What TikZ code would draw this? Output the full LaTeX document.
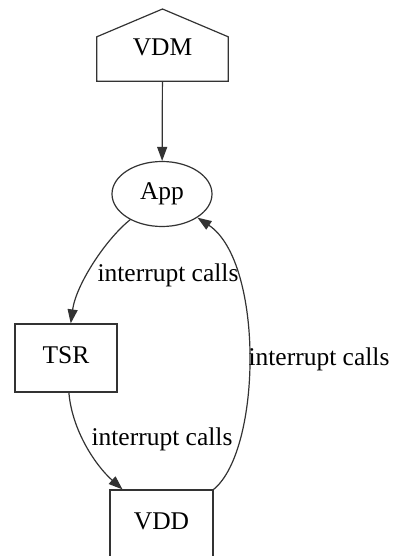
\documentclass[tikz,border=0pt]{standalone}
\usepackage{fontspec}
\setmainfont{Liberation Serif}
\usetikzlibrary{arrows.meta,shapes.geometric}
\begin{document}
\begin{tikzpicture}[x=1pt,y=-1pt,
  every node/.style={font=\fontsize{25.5}{31}\selectfont, text height=1.18em, text depth=0pt, inner sep=0pt},
  line/.style={draw=black!80, line width=1.2pt},
  boxnode/.style={line, rectangle},
  ovalnode/.style={line, ellipse},
  edge/.style={line, -{Triangle[length=14pt,width=10pt]}},
  elabel/.style={fill=none}]
\useasboundingbox (0,0) rectangle (392,556);
\fill[white] (0,0) rectangle (392,556);

% house-shaped VDM node: outline drawn around the node's walls
\node[rectangle, minimum width=131pt, minimum height=44pt] (vdm) at (162.5,59) {};
\draw[line, line join=miter] (vdm.south west) -- (vdm.north west) -- (162.5,9)
  -- (vdm.north east) -- (vdm.south east) -- cycle;
\node (vdmtext) at (162.5,50) {VDM};

\node[ovalnode, minimum width=100pt, minimum height=65pt] (app) at (162,194) {App};
\node[boxnode, minimum width=102pt, minimum height=68pt] (tsr) at (66,358) {TSR};
\node[boxnode, minimum width=103pt, minimum height=68pt] (vdd) at (161.5,524) {VDD};

% connectors
\draw[edge] (vdm) -- (app);
\draw[edge] (app) .. controls (105,240) and (76,285) .. (tsr);
\draw[edge] (tsr) .. controls (72,430) and (95,465) .. (vdd);
\draw[edge] (vdd.north east) .. controls (262,450) and (264,262) .. (app);

% connector labels
\node[elabel] (l1) at (168,276) {interrupt calls};
\node[elabel] (l2) at (162,440) {interrupt calls};
\node[elabel] (l3) at (319,360) {interrupt calls};
\end{tikzpicture}
\end{document}
